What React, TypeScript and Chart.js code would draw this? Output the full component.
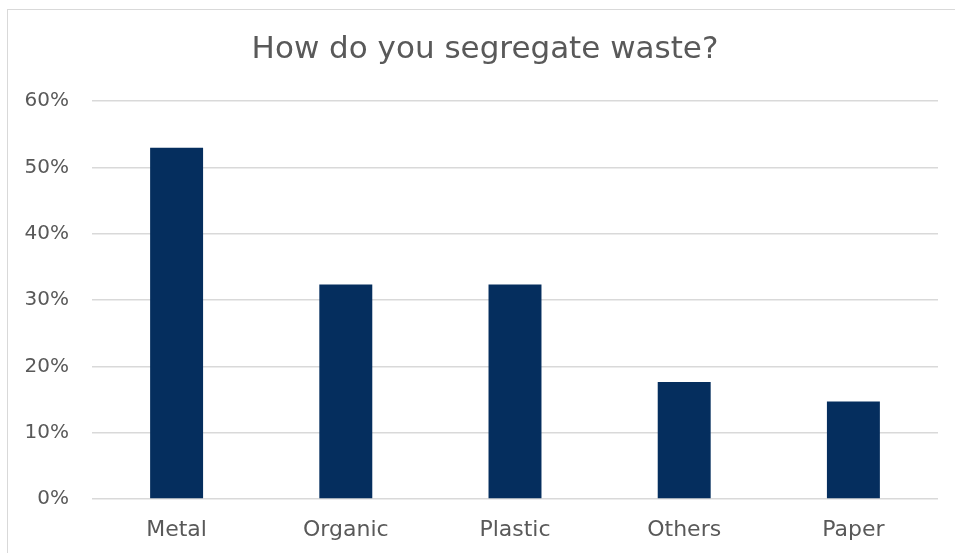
import React, { useEffect, useRef } from "react";
import { Chart, registerables } from "chart.js";

Chart.register(...registerables);

const categories = ["Metal", "Organic", "Plastic", "Others", "Paper"];
const values = [18 / 34, 11 / 34, 11 / 34, 6 / 34, 5 / 34];
const yTicks = [0, 0.1, 0.2, 0.3, 0.4, 0.5, 0.6];
const title = "How do you segregate waste?";

const FONT = "'DejaVu Sans', sans-serif";

const titlePlugin = {
  id: "centeredTitle",
  afterDraw(chart: any) {
    const ctx = chart.ctx;
    ctx.save();
    ctx.font = `normal 31px ${FONT}`;
    ctx.fillStyle = "#595959";
    ctx.textAlign = "center";
    ctx.textBaseline = "middle";
    ctx.fillText(title, 485, 50);
    ctx.restore();
  },
};

export default function App() {
  const ref = useRef<HTMLCanvasElement | null>(null);
  useEffect(() => {
    const prev = document.body.style.margin;
    document.body.style.margin = "0";
    const chart = new Chart(ref.current!, {
      type: "bar",
      data: {
        labels: categories,
        datasets: [
          {
            data: values,
            backgroundColor: "#052E5E",
            categoryPercentage: 0.313,
            barPercentage: 1,
          },
        ],
      },
      options: {
        animation: false,
        responsive: false,
        layout: { padding: { left: 0, right: 17, top: 101, bottom: 0 } },
        plugins: {
          legend: { display: false },
          tooltip: { enabled: false },
          title: { display: false },
        },
        scales: {
          x: {
            grid: { display: false, drawTicks: false },
            border: { display: false },
            ticks: {
              color: "#595959",
              font: { family: FONT, size: 22 },
              padding: 18,
            },
            afterFit: (s: any) => {
              s.height = 54;
            },
          },
          y: {
            min: 0,
            max: 0.6,
            afterBuildTicks: (s: any) => {
              s.ticks = yTicks.map((v) => ({ value: v }));
            },
            grid: { color: "#D9D9D9", lineWidth: 1.5, drawTicks: false },
            border: { display: false },
            ticks: {
              color: "#595959",
              font: { family: FONT, size: 20 },
              padding: 23,
              callback: (v: any) => Math.round(Number(v) * 100) + "%",
            },
            afterFit: (s: any) => {
              s.width = 92;
            },
          },
        },
      },
      plugins: [titlePlugin],
    });
    return () => {
      chart.destroy();
      document.body.style.margin = prev;
    };
  }, []);
  return (
    <div style={{ position: "relative", width: 955, height: 553, overflow: "hidden", background: "#fff" }}>
      <div
        style={{
          position: "absolute",
          left: 7,
          top: 9,
          width: 1000,
          height: 600,
          borderLeft: "1.5px solid #D9D9D9",
          borderTop: "1.5px solid #D9D9D9",
        }}
      />
      <canvas ref={ref} width={955} height={553} style={{ position: "absolute", left: 0, top: 0 }} />
    </div>
  );
}
